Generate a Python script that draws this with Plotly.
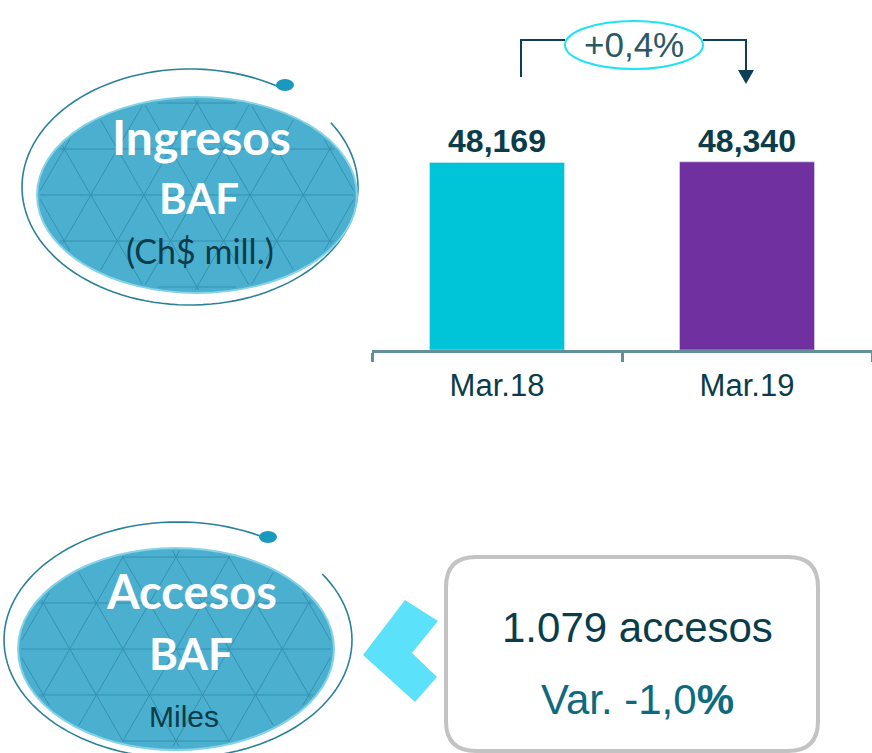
import numpy as np
import plotly.graph_objects as go

# data
periods = ["Mar.18", "Mar.19"]
ingresos = [48169, 48340]
bar_colors = ["#00C5D8", "#7030A0"]
variacion_ingresos = "+0,4%"
accesos_txt = "1.079 accesos"
variacion_accesos = "Var. -1,0"

W, H = 872, 753
DARK = "#0B3C49"
SANS = "Arial, Liberation Sans, sans-serif"
BADGE = "Lato, Open Sans, sans-serif"


def px(x):
    return x / W


def py(y):
    return 1 - y / H


def ellipse_pts(cx, cy, rx, ry, t0, t1, n=120):
    t = np.radians(np.linspace(t0, t1, n))
    return cx + rx * np.cos(t), cy - ry * np.sin(t)


def to_path(xs, ys, close=False):
    s = "M " + " L ".join("{:.5f},{:.5f}".format(px(a), py(b)) for a, b in zip(xs, ys))
    return s + (" Z" if close else "")


def lattice_path(cx, cy, rx, ry, step=46):
    # triangle lattice clipped to the ellipse, for the badge texture
    segs = []
    for ang in (0, 60, 120):
        a = np.radians(ang)
        d = np.array([np.cos(a), -np.sin(a)])
        nrm = np.array([-d[1], d[0]])
        for k in range(-8, 9):
            p = np.array([cx, cy]) + nrm * k * step
            A = (d[0] / rx) ** 2 + (d[1] / ry) ** 2
            B = 2 * ((p[0] - cx) * d[0] / rx ** 2 + (p[1] - cy) * d[1] / ry ** 2)
            C = ((p[0] - cx) / rx) ** 2 + ((p[1] - cy) / ry) ** 2 - 1
            disc = B * B - 4 * A * C
            if disc <= 0:
                continue
            t1 = (-B - np.sqrt(disc)) / (2 * A)
            t2 = (-B + np.sqrt(disc)) / (2 * A)
            q1, q2 = p + d * t1, p + d * t2
            segs.append("M {:.5f},{:.5f} L {:.5f},{:.5f}".format(px(q1[0]), py(q1[1]), px(q2[0]), py(q2[1])))
    return " ".join(segs)


def rounded_rect(x0, y0, x1, y1, r):
    pts = [
        ("M", x0 + r, y0), ("L", x1 - r, y0), ("Q", x1, y0, x1, y0 + r),
        ("L", x1, y1 - r), ("Q", x1, y1, x1 - r, y1), ("L", x0 + r, y1),
        ("Q", x0, y1, x0, y1 - r), ("L", x0, y0 + r), ("Q", x0, y0, x0 + r, y0),
    ]
    out = []
    for p in pts:
        if p[0] == "Q":
            out.append("Q {:.5f},{:.5f} {:.5f},{:.5f}".format(px(p[1]), py(p[2]), px(p[3]), py(p[4])))
        else:
            out.append("{} {:.5f},{:.5f}".format(p[0], px(p[1]), py(p[2])))
    return " ".join(out) + " Z"


fig = go.Figure()
fig.add_trace(go.Bar(
    x=periods, y=ingresos, marker_color=bar_colors, width=0.54,
    texttemplate="<b>%{y:,}</b>", textposition="outside", cliponaxis=False,
    textfont=dict(family=SANS, size=32, color=DARK), hoverinfo="skip",
))

shapes = []


def badge(ring, fill, dot, gap):
    cx, cy, rx, ry = ring
    xs, ys = ellipse_pts(cx, cy, rx, ry, gap[1], gap[0] + 360)
    shapes.append(dict(type="path", path=to_path(xs, ys), xref="paper", yref="paper",
                       line=dict(color="#2B8199", width=1.6)))
    fx, fy, frx, fry = fill
    shapes.append(dict(type="circle", xref="paper", yref="paper",
                       x0=px(fx - frx), x1=px(fx + frx), y0=py(fy + fry), y1=py(fy - fry),
                       fillcolor="#4BAFCF", line=dict(color="#86D3E8", width=2)))
    shapes.append(dict(type="path", path=lattice_path(fx, fy, frx - 3, fry - 3), xref="paper", yref="paper",
                       line=dict(color="#2F86A4", width=1), opacity=0.75))
    dx, dy = dot
    shapes.append(dict(type="circle", xref="paper", yref="paper",
                       x0=px(dx - 9), x1=px(dx + 9), y0=py(dy + 6), y1=py(dy - 6),
                       fillcolor="#1A98BD", line=dict(width=0)))


badge((190, 187, 168, 118), (197, 195, 160, 98), (285, 85), (33, 57))
badge((178, 640, 174, 118), (176, 649, 158, 101), (268, 537), (34, 59))

# bracket with variation
bk = "#0E3F52"
shapes.append(dict(type="path", xref="paper", yref="paper", line=dict(color=bk, width=2),
                   path=to_path([521, 521, 565], [77, 40, 40])))
shapes.append(dict(type="path", xref="paper", yref="paper", line=dict(color=bk, width=2),
                   path=to_path([703, 746, 746], [40, 40, 72])))
shapes.append(dict(type="path", xref="paper", yref="paper", fillcolor=bk, line=dict(width=0),
                   path=to_path([738, 754, 746], [70, 70, 84], close=True)))
shapes.append(dict(type="circle", xref="paper", yref="paper",
                   x0=px(565), x1=px(703), y0=py(69), y1=py(21),
                   fillcolor="white", line=dict(color="#1FE3F2", width=2)))

# chevron and box
shapes.append(dict(type="path", xref="paper", yref="paper", fillcolor="#5CE1FA", line=dict(width=0),
                   path=to_path([363, 405, 438, 412, 437, 415], [655, 600, 621, 653, 677, 702], close=True)))
shapes.append(dict(type="path", xref="paper", yref="paper", fillcolor="white",
                   line=dict(color="#C3C3C3", width=4), path=rounded_rect(446, 557, 818, 751, 30)))

annotations = [
    dict(text=variacion_ingresos, x=px(634), y=py(45), font=dict(family=SANS, size=35, color="#2C5866")),
    dict(text="<b>Ingresos</b>", x=px(201), y=py(136), font=dict(family=BADGE, size=48, color="white")),
    dict(text="<b>BAF</b>", x=px(199), y=py(198), font=dict(family=BADGE, size=42, color="white")),
    dict(text="(Ch$ mill.)", x=px(200), y=py(251), font=dict(family=BADGE, size=34, color=DARK)),
    dict(text="<b>Accesos</b>", x=px(191), y=py(591), font=dict(family=BADGE, size=47, color="white")),
    dict(text="<b>BAF</b>", x=px(191), y=py(653), font=dict(family=BADGE, size=44, color="white")),
    dict(text="Miles", x=px(184), y=py(716), font=dict(family=SANS, size=30, color=DARK)),
    dict(text=accesos_txt, x=px(637), y=py(627), font=dict(family=SANS, size=42, color=DARK)),
    dict(text=variacion_accesos + "<b>%</b>", x=px(637), y=py(699), font=dict(family=SANS, size=42, color="#0E6A7E")),
]
for a in annotations:
    a.update(xref="paper", yref="paper", showarrow=False, xanchor="center", yanchor="middle")

fig.update_layout(
    width=W, height=H, margin=dict(l=0, r=0, t=0, b=0),
    paper_bgcolor="white", plot_bgcolor="white", showlegend=False,
    shapes=shapes, annotations=annotations,
    xaxis=dict(domain=[px(372), 1], range=[-0.5, 1.5], showline=True, linecolor="#648E98", linewidth=3,
               ticks="outside", tickson="boundaries", ticklen=9, tickwidth=3, tickcolor="#648E98",
               ticklabelstandoff=6,
               tickfont=dict(family=SANS, size=31, color=DARK), showgrid=False, zeroline=False),
    yaxis=dict(domain=[py(350), 1], range=[0, max(ingresos) * 1.86], visible=False, showgrid=False),
)

fig.write_html("out.html", config={"displayModeBar": False},
               post_script="document.body.style.margin='0';document.body.style.overflow='hidden';")
